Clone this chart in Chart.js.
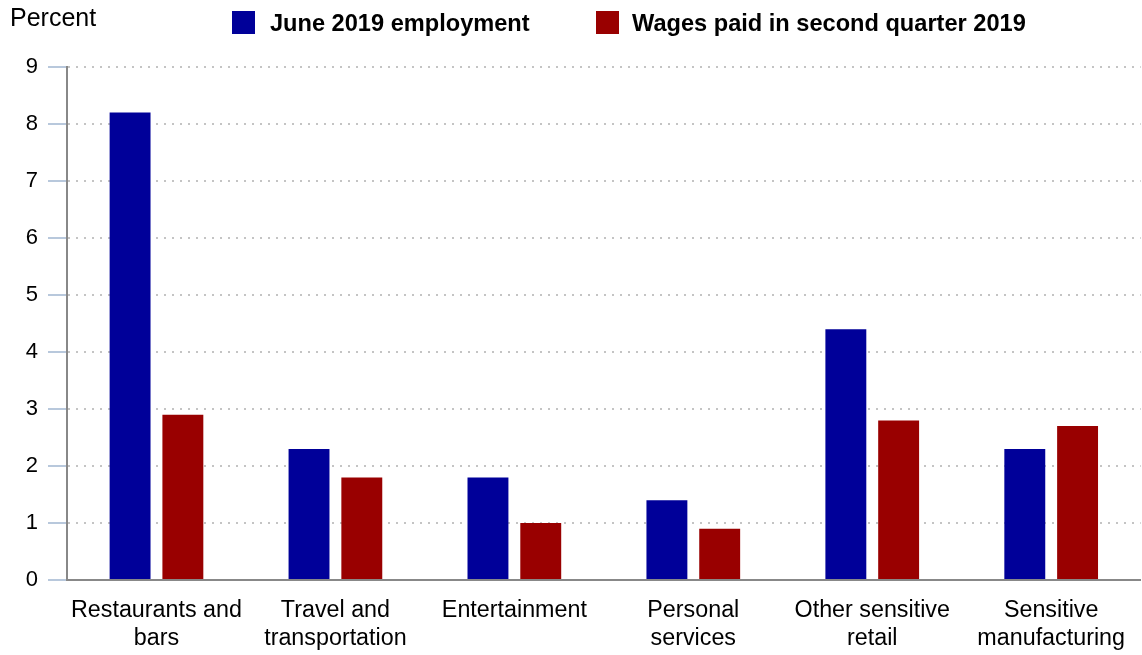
<!DOCTYPE html>
<html>
<head>
<meta charset="utf-8">
<script src="https://cdn.jsdelivr.net/npm/chart.js@4"></script>
<style>
  body { margin: 0; background: #fff; font-family: "Liberation Sans", Arial, sans-serif; }
  #wrap { position: relative; width: 1142px; height: 655px; }
  #unit { position: absolute; left: 10px; top: 5px; font-size: 25px; line-height: 25px; color: #000; }
  .key { position: absolute; top: 11px; width: 23px; height: 23px; }
  .keytext { position: absolute; top: 12px; font-size: 23.6px; line-height: 23px; font-weight: bold; color: #000; white-space: nowrap; }
</style>
</head>
<body>
<div id="wrap">
  <canvas id="result"></canvas>
  <div id="unit">Percent</div>
  <div class="key" style="left:232px;background:#000099"></div>
  <div class="keytext" id="lab0" style="left:270px"></div>
  <div class="key" style="left:596px;background:#990000"></div>
  <div class="keytext" id="lab1" style="left:632px"></div>
</div>
<script>
const categories = [
    ['Restaurants and', 'bars'],
    ['Travel and', 'transportation'],
    ['Entertainment'],
    ['Personal', 'services'],
    ['Other sensitive', 'retail'],
    ['Sensitive', 'manufacturing']
]

const seriesNames = ['June 2019 employment', 'Wages paid in second quarter 2019']
const employment = [8.2, 2.3, 1.8, 1.4, 4.4, 2.3]
const wages = [2.9, 1.8, 1.0, 0.9, 2.8, 2.7]
const yTicks = [0, 1, 2, 3, 4, 5, 6, 7, 8, 9]

const fontFamily = '"Liberation Sans", Arial, sans-serif'

document.getElementById('lab0').textContent = seriesNames[0]
document.getElementById('lab1').textContent = seriesNames[1]

let data = {
    labels: categories,
    datasets: [{
        label: seriesNames[0],
        data: employment,
        backgroundColor: '#000099'
    }, {
        label: seriesNames[1],
        data: wages,
        backgroundColor: '#990000'
    }]
};

const config = {
    type: 'bar',
    data: data,
    options: {
        responsive: true,
        maintainAspectRatio: false,
        animation: false,
        categoryPercentage: 0.59,
        barPercentage: 0.775,
        layout: { padding: { top: 67, right: 0, left: 0, bottom: 0 } },
        plugins: {
            legend: { display: false },
            tooltip: { enabled: false }
        },
        scales: {
            x: {
                grid: { display: false, drawTicks: false },
                border: { display: true, color: '#888888', width: 2 },
                ticks: {
                    color: '#000',
                    padding: 17,
                    maxRotation: 0,
                    autoSkip: false,
                    font: { family: fontFamily, size: 23.3, lineHeight: 1.2 }
                },
                afterFit: (scale) => { scale.height = 75 }
            },
            y: {
                min: 0,
                max: 9,
                afterBuildTicks: (scale) => { scale.ticks = yTicks.map(v => ({ value: v })) },
                grid: {
                    color: (ctx) => ctx.tick && ctx.tick.value === 0 ? 'rgba(0,0,0,0)' : '#c4c4c4',
                    lineWidth: 2,
                    tickColor: '#b8c8dc',
                    tickLength: 19,
                    tickWidth: 2,
                    tickBorderDash: []
                },
                border: { display: true, color: '#888888', width: 2, dash: [2, 6] },
                ticks: {
                    color: '#000',
                    padding: 10,
                    font: { family: fontFamily, size: 22 }
                },
                afterFit: (scale) => { scale.width = 67 }
            }
        }
    }
};

window.addEventListener("DOMContentLoaded", () => {
    const myChart = new Chart(
        document.getElementById('result'),
        config
    );
})
</script>
</body>
</html>
